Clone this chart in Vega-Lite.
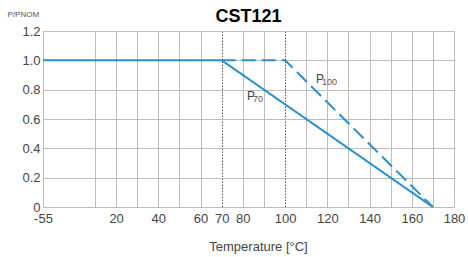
{
  "$schema": "https://vega.github.io/schema/vega-lite/v6.json",
  "width": 411,
  "height": 176,
  "autosize": {"type": "none"},
  "padding": {"left": 43, "top": 31, "right": 14, "bottom": 50},
  "background": "white",
  "title": {
    "text": "CST121",
    "fontSize": 18,
    "fontWeight": "bold",
    "font": "Liberation Sans",
    "color": "#000000",
    "anchor": "middle",
    "frame": "group",
    "baseline": "alphabetic",
    "offset": 9,
    "dy": 39
  },
  "config": {
    "view": {"stroke": null},
    "font": "Liberation Sans"
  },
  "encoding": {
    "x": {
      "field": "t",
      "type": "quantitative",
      "scale": {"type": "linear", "domain": [-55, 10, 180], "range": [0, 52, 411], "nice": false, "zero": false},
      "axis": {
        "title": "Temperature [°C]",
        "titleFontSize": 13,
        "titleFontWeight": "normal",
        "titleColor": "#444444",
        "titleX": 215,
        "titleY": 43,
        "titleAlign": "center",
        "titleBaseline": "alphabetic",
        "values": [-55, 10, 20, 30, 40, 50, 60, 70, 80, 90, 100, 110, 120, 130, 140, 150, 160, 170, 180],
        "labelExpr": "datum.value == -55 ? '-55' : (indexof([20,40,60,70,80,100,120,140,160,180], datum.value) >= 0 ? datum.label : '')",
        "labelFontSize": 13,
        "labelColor": "#444444",
        "labelPadding": 5,
        "labelFlush": false,
        "labelOverlap": false,
        "ticks": false,
        "domain": false,
        "grid": true,
        "gridColor": {"condition": {"test": "datum.value == 70 || datum.value == 100", "value": "#555555"}, "value": "#bdbdbd"},
        "gridDash": {"condition": {"test": "datum.value == 70 || datum.value == 100", "value": [1.5, 1.5]}, "value": []},
        "gridWidth": 1
      }
    },
    "y": {
      "field": "p",
      "type": "quantitative",
      "scale": {"domain": [0, 1.2], "nice": false, "zero": false},
      "axis": {
        "title": "P/PNOM",
        "titleFontSize": 8,
        "titleFontWeight": "normal",
        "titleColor": "#555555",
        "titleAngle": 0,
        "titleAlign": "left",
        "titleBaseline": "alphabetic",
        "titleX": -36,
        "titleY": -15,
        "values": [0, 0.2, 0.4, 0.6, 0.8, 1.0, 1.2],
        "labelExpr": "datum.value == 0 ? '0' : format(datum.value, '.1f')",
        "labelFontSize": 13,
        "labelColor": "#444444",
        "labelPadding": 3,
        "ticks": false,
        "domain": false,
        "grid": true,
        "gridColor": "#bdbdbd",
        "gridWidth": 1
      }
    }
  },
  "layer": [
    {
      "data": {
        "values": [
          {"curve": "P70", "t": -55, "p": 1},
          {"curve": "P70", "t": 70, "p": 1},
          {"curve": "P70", "t": 170, "p": 0},
          {"curve": "P100", "t": 70, "p": 1},
          {"curve": "P100", "t": 100, "p": 1},
          {"curve": "P100", "t": 170, "p": 0}
        ]
      },
      "mark": {"type": "line", "color": "#2a8fd0", "strokeWidth": 2},
      "encoding": {
        "detail": {"field": "curve"},
        "strokeDash": {
          "field": "curve",
          "type": "nominal",
          "scale": {"domain": ["P70", "P100"], "range": [[1, 0], [14, 6]]},
          "legend": null
        }
      }
    },
    {
      "data": {
        "values": [
          {"t": 82, "p": 0.73, "main": "P", "sub": "70"},
          {"t": 114.7, "p": 0.846, "main": "P", "sub": "100"}
        ]
      },
      "layer": [
        {
          "mark": {"type": "text", "align": "left", "baseline": "alphabetic", "fontSize": 12, "color": "#444444"},
          "encoding": {"text": {"field": "main"}}
        },
        {
          "mark": {"type": "text", "align": "left", "baseline": "alphabetic", "fontSize": 9, "color": "#555555", "dx": 6, "dy": 2},
          "encoding": {"text": {"field": "sub"}}
        }
      ]
    }
  ]
}
